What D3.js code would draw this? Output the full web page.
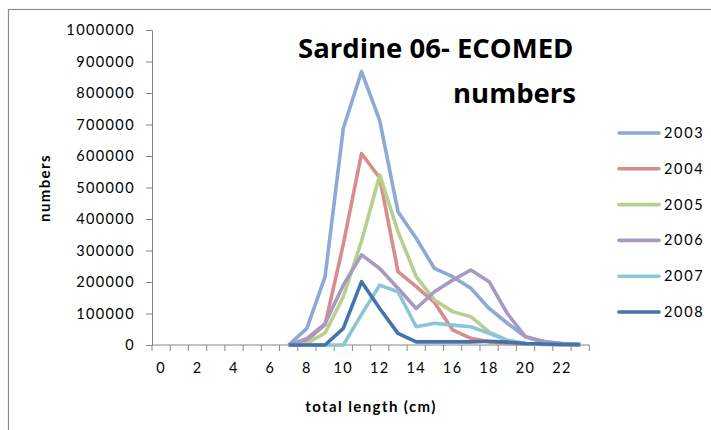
<!DOCTYPE html>
<html><head><meta charset="utf-8">
<script src="https://cdn.jsdelivr.net/npm/d3@7"></script>
<style>body{margin:0;background:#fff}svg{display:block}</style>
</head><body>
<svg id="c" width="711" height="430"></svg>
<script>
const categories = d3.range(0, 24);
const xTickLabels = [0,2,4,6,8,10,12,14,16,18,20,22];
const yTicks = [0,100000,200000,300000,400000,500000,600000,700000,800000,900000,1000000];
const seriesNames = ["2003","2004","2005","2006","2007","2008"];
const seriesColors = ["#8DA9D6","#D68D8B","#B7CF8F","#A898C4","#8BC5D8","#4473A9"];
const xStart = 7;
const v2003 = [0,53000,217000,688000,868000,712000,423000,339000,243000,217000,180000,116000,69000,26000,8000,5000,2000];
const v2004 = [0,15000,65000,320000,608000,530000,233000,185000,135000,48000,21000,10000,5000,3000,2000,1000,1000];
const v2005 = [0,5000,38000,153000,330000,540000,360000,217000,143000,106000,90000,42000,15000,5000,3000,2000,1000];
const v2006 = [0,20000,68000,190000,286000,243000,180000,116000,169000,206000,238000,201000,100000,26000,12000,5000,2000];
const v2007 = [0,0,0,0,97000,190000,169000,58000,69000,63000,58000,37000,15000,5000,3000,2000,1000];
const v2008 = [0,0,0,53000,201000,116000,37000,10000,10000,10000,10000,12000,9000,5000,3000,2000,1000];
const allValues = [v2003,v2004,v2005,v2006,v2007,v2008];

const svg = d3.select("#c");
const L = 152, R = 589.3, T = 30, B = 345;
const x = d3.scaleBand().domain(categories).range([L, R]);
const y = d3.scaleLinear().domain([0, 1000000]).range([B, T]);
const font = "Lato, 'Open Sans', sans-serif";
const titleFont = "'Open Sans', Lato, sans-serif";

// outer border
svg.append("rect").attr("x", 8.5).attr("y", 9.5).attr("width", 720).attr("height", 440)
  .attr("fill", "none").attr("stroke", "#8c8c8c").attr("stroke-width", 1.2);

// y axis
const ya = svg.append("g").attr("transform", `translate(${L},0)`)
  .call(d3.axisLeft(y).tickValues(yTicks).tickSize(6).tickPadding(11).tickFormat(d3.format("d")));
ya.selectAll("path,line").attr("stroke", "#868686");
ya.selectAll("text").attr("font-family", font).attr("font-size", 14.5).attr("fill", "#000")
  .attr("letter-spacing", 1.4);

// x axis with ticks between categories
const xa = svg.append("g").attr("transform", `translate(0,${B})`)
  .call(d3.axisBottom(x).tickValues(xTickLabels).tickSize(0).tickPadding(18));
xa.select("path").attr("stroke", "#868686").attr("d", `M${L},0H${R}`);
xa.selectAll("text").attr("font-family", font).attr("font-size", 14.5).attr("fill", "#000")
  .attr("letter-spacing", 1.4);
xa.selectAll("line").remove();
svg.append("g").selectAll("line").data(d3.range(0, 25)).join("line")
  .attr("x1", d => L + d * x.step()).attr("x2", d => L + d * x.step())
  .attr("y1", B).attr("y2", B + 6).attr("stroke", "#868686");

// lines
const line = d3.line().x((d, i) => x(xStart + i) + x.bandwidth() / 2).y(d => y(d));
allValues.forEach((vals, k) => {
  svg.append("path").datum(vals).attr("d", line).attr("fill", "none")
    .attr("stroke", seriesColors[k]).attr("stroke-width", 3.6).attr("stroke-linejoin", "round");
});

// legend
seriesNames.forEach((n, k) => {
  const yy = 133 + k * 35.8;
  svg.append("line").attr("x1", 619).attr("x2", 659).attr("y1", yy).attr("y2", yy)
    .attr("stroke", seriesColors[k]).attr("stroke-width", 3.6).attr("stroke-linecap", "round");
  svg.append("text").attr("x", 664).attr("y", yy + 5).text(n)
    .attr("font-family", font).attr("font-size", 14.5).attr("fill", "#000").attr("letter-spacing", 1.7);
});

// titles
svg.append("text").attr("x", 298).attr("y", 58)
  .attr("font-family", titleFont).attr("font-weight", "bold").attr("font-size", 27.5).text("Sardine 06- ECOMED");
svg.append("text").attr("x", 576).attr("y", 103).attr("text-anchor", "end")
  .attr("font-family", titleFont).attr("font-weight", "bold").attr("font-size", 27.5).text("numbers");
svg.append("text").attr("x", 371).attr("y", 412).attr("text-anchor", "middle")
  .attr("font-family", font).attr("font-weight", "bold").attr("font-size", 15).attr("letter-spacing", 1.4)
  .text("total length  (cm)");
svg.append("text").attr("transform", "translate(50,188) rotate(-90)").attr("text-anchor", "middle")
  .attr("font-family", font).attr("font-weight", "bold").attr("font-size", 15).attr("letter-spacing", 1.4)
  .text("numbers");
</script>
</body></html>
